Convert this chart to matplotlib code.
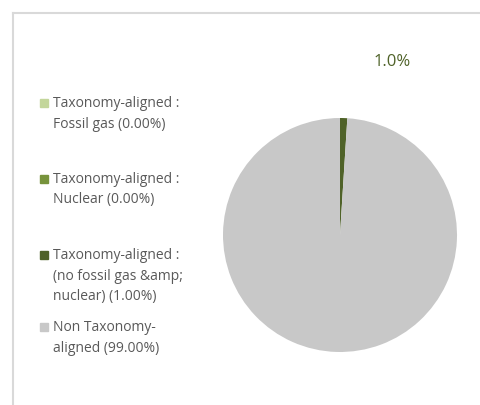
import matplotlib
matplotlib.use("Agg")
import matplotlib.pyplot as plt
from matplotlib.patches import Rectangle
from matplotlib.lines import Line2D

categories = ["Taxonomy-aligned :\nFossil gas (0.00%)",
              "Taxonomy-aligned :\nNuclear (0.00%)",
              "Taxonomy-aligned :\n(no fossil gas &amp;\nnuclear) (1.00%)",
              "Non Taxonomy-\naligned (99.00%)"]
values = [0.0, 0.0, 1.0, 99.0]
colors = ["#c3d69b", "#77933c", "#4f6228", "#c8c8c8"]
shown_label = "1.0%"

W, H = 481, 405
fig = plt.figure(figsize=(W / 100, H / 100), dpi=100)
plt.rcParams['font.family'] = ['Open Sans', 'DejaVu Sans']

# border lines (top and left)
fig.add_artist(Line2D([13 / W, 1], [1 - 13 / H, 1 - 13 / H], color="#d9d9d9", lw=1.5))
fig.add_artist(Line2D([13 / W, 13 / W], [0, 1 - 13 / H], color="#d9d9d9", lw=1.5))

# pie
cx, cy, r = 340, 235, 117
ax = fig.add_axes([(cx - r) / W, 1 - (cy + r) / H, 2 * r / W, 2 * r / H])
ax.pie(values, colors=colors, startangle=90, counterclock=False,
       wedgeprops=dict(linewidth=0))
ax.set_xlim(-1, 1)
ax.set_ylim(-1, 1)
ax.set_aspect("equal")
ax.axis("off")

# data label
fig.text(392 / W, 1 - 62 / H, shown_label, color="#4f6228", fontsize=12,
         ha="center", va="center")

# legend
ys = [103, 179, 255, 327]
for lab, col, y in zip(categories, colors, ys):
    fig.add_artist(Rectangle((40 / W, 1 - (y + 4) / H), 8 / W, 8 / H,
                             color=col, transform=fig.transFigure))
    fig.text(53 / W, 1 - (y - 7) / H, lab, color="#595959", fontsize=10,
             ha="left", va="top", linespacing=1.5)

fig.savefig("out.png", dpi=100)
